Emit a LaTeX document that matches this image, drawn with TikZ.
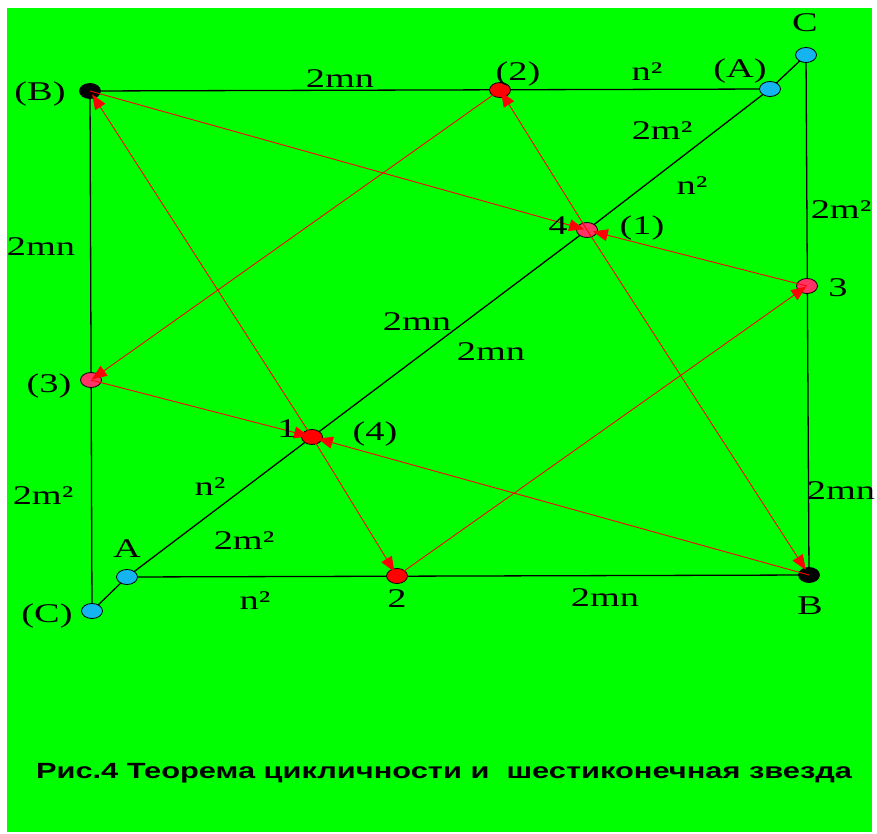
\documentclass[tikz,border=0pt]{standalone}
\usepackage{fontspec}
\usepackage{graphicx}
\setmainfont{Liberation Serif}
\newfontfamily\capfont{Liberation Sans}
\usetikzlibrary{shapes.geometric,arrows.meta}
\definecolor{bggreen}{RGB}{0,255,0}
\definecolor{dotblue}{RGB}{20,180,240}
\definecolor{dotpink}{RGB}{255,51,102}
\definecolor{dotred}{RGB}{255,0,0}
\newcommand\wx[1]{\scalebox{1.42}[1]{#1}}
\tikzset{
  lab/.style={font=\fontsize{27}{27}\selectfont, inner sep=0pt},
  dotbase/.style={ellipse, draw=black, line width=0.8pt, minimum width=21pt, minimum height=15pt, inner sep=0pt},
  dotblack/.style={dotbase, fill=black},
  dotblueS/.style={dotbase, fill=dotblue},
  dotpinkS/.style={dotbase, fill=dotpink},
  dotredS/.style={dotbase, fill=dotred},
  frame/.style={black, line width=1.3pt},
  redarr/.style={red, line width=0.9pt, -{Triangle[length=15pt,width=12pt]}, shorten >=2pt},
}
\begin{document}
\begin{tikzpicture}[x=1pt,y=-1pt]
\useasboundingbox (0,0) rectangle (877,834);
\fill[white] (0,0) rectangle (877,834);
\fill[bggreen] (7,8) rectangle (872,832);

% points
\coordinate (cBp) at (90,91);
\coordinate (cP2) at (500,90);
\coordinate (cAp) at (770,89);
\coordinate (cCc) at (806,55);
\coordinate (cP1) at (587,230);
\coordinate (cT3) at (807,286);
\coordinate (cBb) at (809,575);
\coordinate (cT2) at (397,576);
\coordinate (cAa) at (127,577);
\coordinate (cCp) at (92,611);
\coordinate (cP3) at (91,380);
\coordinate (cP4) at (312,437);

% black frame lines
\draw[frame] (cBp) -- (cAp);
\draw[frame] (cCc) -- (cBb);
\draw[frame] (cAa) -- (cBb);
\draw[frame] (cBp) -- (cCp);
\draw[frame] (cCp) -- (cAa) -- (cP4) -- (cP1) -- (cAp) -- (cCc);

% dots
\node[dotblack] (Bp) at (cBp) {};
\node[dotredS] (P2) at (cP2) {};
\node[dotblueS] (Ap) at (cAp) {};
\node[dotblueS] (Cc) at (cCc) {};
\node[dotpinkS] (P1) at (cP1) {};
\node[dotpinkS] (T3) at (cT3) {};
\node[dotblack] (Bb) at (cBb) {};
\node[dotredS] (T2) at (cT2) {};
\node[dotblueS] (Aa) at (cAa) {};
\node[dotblueS] (Cp) at (cCp) {};
\node[dotpinkS] (P3) at (cP3) {};
\node[dotredS] (P4) at (cP4) {};

% red arrows
\draw[redarr] (P1.center) -- (P2.center);
\draw[redarr, shorten >=6pt] (P1.center) -- (Bb.center);
\draw[redarr, shorten >=4pt] (P4.center) -- (Bp.center);
\draw[redarr, shorten >=5pt] (P4.center) -- (T2.center);
\draw[redarr, shorten >=3pt] (Bp.center) -- (P1.center);
\draw[redarr, shorten >=6pt] (T3.center) -- (P1.center);
\draw[redarr, shorten >=3pt] (P3.center) -- (P4.center);
\draw[redarr, shorten >=6pt] (Bb.center) -- (P4.center);
\draw[redarr, shorten >=1pt] (P2.center) -- (P3.center);
\draw[redarr, shorten >=1pt] (T2.center) -- (T3.center);

% labels
\node[lab] (lBp) at (40,94) {\wx{(B)}};
\node[lab] (l1) at (340,79) {\wx{2mn}};
\node[lab] (lP2) at (518,74) {\wx{(2)}};
\node[lab] (l2) at (647,72) {\wx{n²}};
\node[lab] (lAp) at (740,71) {\wx{(A)}};
\node[lab] (lCc) at (805,23) {\wx{C}};
\node[lab] (l3) at (662,131) {\wx{2m²}};
\node[lab] (l4) at (692,186) {\wx{n²}};
\node[lab] (l5) at (841,210) {\wx{2m²}};
\node[lab] (l6) at (558,226) {\wx{4}};
\node[lab] (lP1) at (642,228) {\wx{(1)}};
\node[lab] (lT3) at (838,288) {\wx{3}};
\node[lab] (l7) at (41,247) {\wx{2mn}};
\node[lab] (l8) at (417,322) {\wx{2mn}};
\node[lab] (l9) at (491,352) {\wx{2mn}};
\node[lab] (lP3) at (49,386) {\wx{(3)}};
\node[lab] (l10) at (287,429) {\wx{1}};
\node[lab] (lP4) at (375,434) {\wx{(4)}};
\node[lab] (l11) at (43,496) {\wx{2m²}};
\node[lab] (l12) at (210,487) {\wx{n²}};
\node[lab] (l13) at (841,491) {\wx{2mn}};
\node[lab] (lAa) at (127,549) {\wx{A}};
\node[lab] (l14) at (244,541) {\wx{2m²}};
\node[lab] (lCp) at (47,616) {\wx{(C)}};
\node[lab] (l15) at (255,601) {\wx{n²}};
\node[lab] (lT2) at (397,599) {\wx{2}};
\node[lab] (l16) at (605,598) {\wx{2mn}};
\node[lab] (lBb) at (810,606) {\wx{B}};

\node[font=\capfont\bfseries\fontsize{22}{22}\selectfont, inner sep=0pt] (cap) at (444,773)
  {\scalebox{1.40}[1]{Рис.4 Теорема цикличности и\ \ шестиконечная звезда}};
\end{tikzpicture}
\end{document}
